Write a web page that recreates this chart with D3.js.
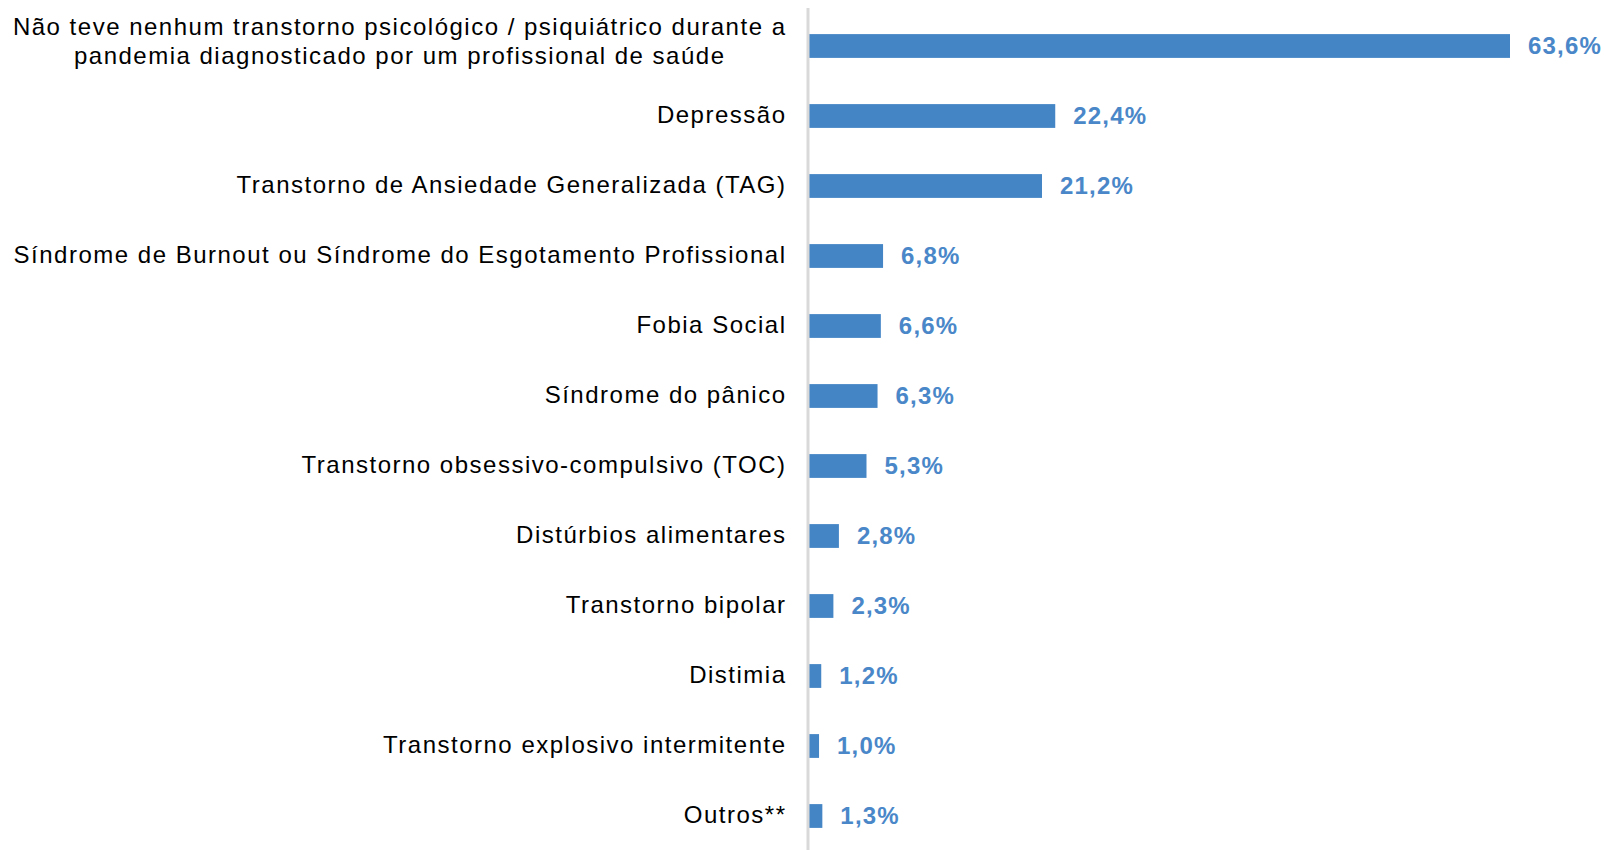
<!DOCTYPE html>
<html>
<head>
<meta charset="utf-8">
<script src="https://cdn.jsdelivr.net/npm/d3@7"></script>
<style>
  body { margin: 0; background: #fff; }
  svg text { font-family: "Liberation Sans", Arial, sans-serif; }
</style>
</head>
<body>
<div id="chart"></div>
<script>
// categories (two-line label split by \n)
const categories = [
  'Não teve nenhum transtorno psicológico / psiquiátrico durante a\npandemia diagnosticado por um profissional de saúde',
  'Depressão',
  'Transtorno de Ansiedade Generalizada (TAG)',
  'Síndrome de Burnout ou Síndrome do Esgotamento Profissional',
  'Fobia Social',
  'Síndrome do pânico',
  'Transtorno obsessivo-compulsivo (TOC)',
  'Distúrbios alimentares',
  'Transtorno bipolar',
  'Distimia',
  'Transtorno explosivo intermitente',
  'Outros**'
];
const values = [63.6, 22.4, 21.2, 6.8, 6.6, 6.3, 5.3, 2.8, 2.3, 1.2, 1.0, 1.3];
const valueLabels = ['63,6%', '22,4%', '21,2%', '6,8%', '6,6%', '6,3%', '5,3%', '2,8%', '2,3%', '1,2%', '1,0%', '1,3%'];

const W = 1606, H = 850;
const margin = { LEFT: 808, RIGHT: 0, TOP: 11, BOTTOM: 0 };
const BAR_COLOR = '#4485c6';
const LABEL_COLOR = '#4a87c9';
const LABEL_RIGHT = 785;
const LS = 1.5; // letter spacing of category labels

const svg = d3.select('#chart').append('svg')
  .attr('width', W)
  .attr('height', H);

const x = d3.scaleLinear().domain([0, 63.6]).range([margin.LEFT, 1510]);
const y = d3.scaleBand().domain(d3.range(categories.length))
  .range([margin.TOP, margin.TOP + 70 * categories.length])
  .paddingInner(0.66).paddingOuter(0.33);

// bars
svg.append('g').selectAll('rect')
  .data(values)
  .join('rect')
  .attr('x', x(0))
  .attr('y', (d, i) => y(i))
  .attr('width', d => x(d) - x(0))
  .attr('height', y.bandwidth())
  .attr('fill', BAR_COLOR);

// vertical axis line
svg.append('line')
  .attr('x1', x(0)).attr('x2', x(0))
  .attr('y1', 8).attr('y2', H)
  .attr('stroke', '#d9d9d9')
  .attr('stroke-width', 3);

// category labels
const labels = svg.append('g').selectAll('text')
  .data(categories)
  .join('text')
  .attr('font-size', 24)
  .attr('letter-spacing', LS)
  .attr('fill', '#000');

labels.each(function (d, i) {
  const lines = d.split('\n');
  const cy = y(i) + y.bandwidth() / 2 - 1;
  const t = d3.select(this);
  if (lines.length === 1) {
    t.attr('text-anchor', 'end')
      .attr('x', LABEL_RIGHT + LS)
      .attr('y', cy)
      .attr('dy', '0.35em')
      .text(d);
    return;
  }
  // multi-line: centred block, right edge at LABEL_RIGHT
  const lh = 29;
  t.attr('text-anchor', 'middle');
  const spans = lines.map((ln, k) => t.append('tspan')
    .attr('y', cy - 4 + (k - (lines.length - 1) / 2) * lh)
    .attr('dy', '0.35em')
    .text(ln));
  const maxW = d3.max(spans, s => s.node().getComputedTextLength());
  spans.forEach(s => s.attr('x', LABEL_RIGHT + LS - maxW / 2));
});

// value labels
svg.append('g').selectAll('text')
  .data(values)
  .join('text')
  .attr('x', d => x(d) + 18)
  .attr('y', (d, i) => y(i) + y.bandwidth() / 2 - 1)
  .attr('dy', '0.38em')
  .attr('font-size', 24)
  .attr('letter-spacing', 1.2)
  .attr('font-weight', 'bold')
  .attr('fill', LABEL_COLOR)
  .text((d, i) => valueLabels[i]);
</script>
</body>
</html>
